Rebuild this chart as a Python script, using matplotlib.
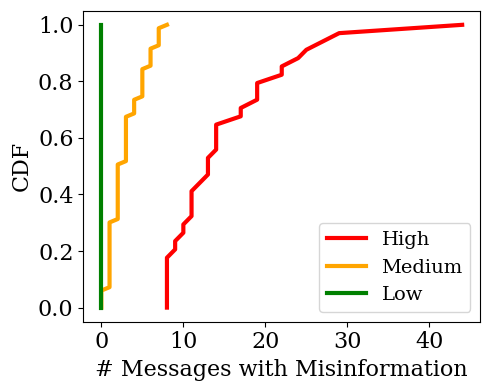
import numpy as np
import matplotlib
matplotlib.use("Agg")
import matplotlib.pyplot as plt

# Messages with misinformation per user, by group (sorted values for the CDF)
high_values = [8]*7 + [9]*2 + [10]*2 + [11]*4 + [12] + [13]*3 + [14]*4 + \
              [17]*2 + [19]*3 + [22]*2 + [24, 25, 27, 29, 44]
medium_values = [0]*6 + [1]*20 + [2]*17 + [3]*14 + [4]*5 + [5]*9 + [6]*6 + [7]*6 + [8]
low_values = [0]*10

series_labels = ["High", "Medium", "Low"]
series_colors = ["red", "orange", "green"]

plt.rcParams['font.family'] = ['DejaVu Serif']

fig = plt.figure(figsize=(4.9, 3.9), dpi=100)
ax = fig.add_axes([0.170, 0.175, 0.810, 0.7976])

for vals, lab, col in zip([high_values, medium_values, low_values], series_labels, series_colors):
    x = np.sort(np.array(vals))
    y = np.linspace(0, 1, len(x))
    ax.plot(x, y, color=col, linewidth=3, label=lab)

ax.set_xlabel("# Messages with Misinformation", fontsize=16)
ax.set_ylabel("CDF", fontsize=16)
ax.tick_params(axis='both', labelsize=16)
ax.legend(loc='lower right', fontsize=14)

fig.savefig("out.png", dpi=100)
